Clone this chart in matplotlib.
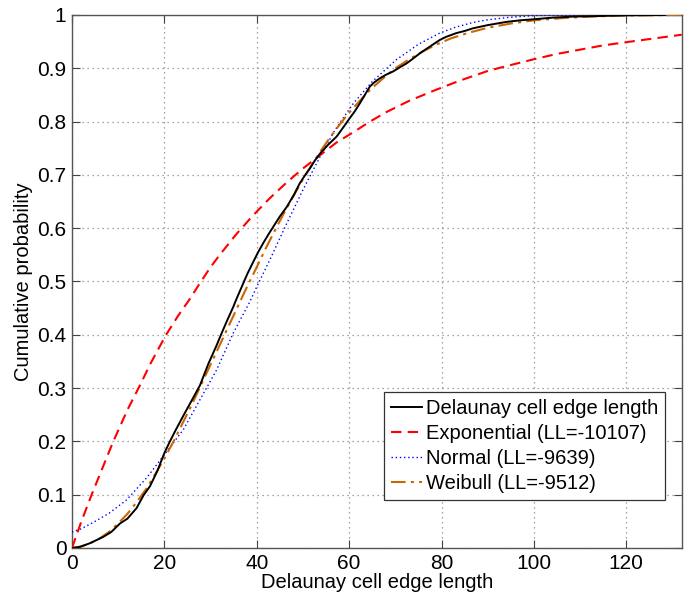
import matplotlib
matplotlib.use("Agg")
import matplotlib.pyplot as plt

# Empirical CDF (black)
emp_x = [0, 1.7, 3.9, 6.8, 8.5, 10.4, 12, 14.0, 15.5, 16.9, 18.5, 20, 21.2, 22.5, 24.1, 26, 27.7, 29.5, 31.3, 32.4,
         33.5, 34.9, 35.6, 37.1, 38, 39.2, 40.3, 41.4, 42.5, 43.6, 45, 46.5, 48, 49.3, 50.5, 51.5, 52.5, 53.7, 55.5,
         57.3, 58.8, 60.1, 61.2, 62.3, 63.4, 64.5, 65.5, 66.6, 68, 69.5, 71, 72.4, 73.8, 75.3, 77, 79.6, 81, 83.2,
         85, 86.8, 90, 94, 97, 100, 104, 108.5, 114, 120, 128.3]
emp_y = [0, 0.002, 0.009, 0.021, 0.030, 0.046, 0.055, 0.075, 0.099, 0.116, 0.145, 0.178, 0.200, 0.222, 0.248, 0.278,
         0.305, 0.345, 0.380, 0.403, 0.425, 0.452, 0.467, 0.497, 0.515, 0.536, 0.555, 0.572, 0.588, 0.603, 0.622,
         0.640, 0.662, 0.684, 0.700, 0.712, 0.726, 0.740, 0.757, 0.772, 0.790, 0.806, 0.819, 0.834, 0.850, 0.866,
         0.874, 0.881, 0.888, 0.894, 0.902, 0.909, 0.918, 0.928, 0.938, 0.953, 0.959, 0.966, 0.970, 0.975, 0.981,
         0.987, 0.990, 0.992, 0.995, 0.997, 0.998, 0.9994, 1.0]

# Exponential fit (red dashed)
exp_x = [0, 2, 4.3, 8.9, 12, 14.7, 17, 20.3, 23, 25.5, 27.7, 30, 32, 35.5, 39.2, 42.8, 46.5, 50, 53.7, 57.3, 60.9,
         64.5, 68.1, 73, 78.9, 84, 90, 94, 100, 105, 110, 115, 120, 126, 132]
exp_y = [0, 0.049, 0.101, 0.199, 0.259, 0.305, 0.346, 0.399, 0.436, 0.467, 0.497, 0.527, 0.550, 0.588, 0.624, 0.656,
         0.686, 0.712, 0.737, 0.761, 0.780, 0.800, 0.818, 0.839, 0.860, 0.877, 0.895, 0.904, 0.917, 0.927, 0.935,
         0.943, 0.949, 0.956, 0.963]

# Normal fit (blue dotted)
norm_x = [0, 2, 4.6, 8, 11.8, 16.2, 20, 24.1, 27.7, 31.3, 34.9, 38.5, 40, 42.8, 46.5, 50, 53.7, 57, 60.9, 65, 70.2,
          75, 79.6, 83, 86.8, 90, 94, 100, 110, 132]
norm_y = [0.030, 0.036, 0.048, 0.065, 0.090, 0.132, 0.175, 0.222, 0.278, 0.334, 0.403, 0.462, 0.490, 0.540, 0.609,
          0.672, 0.734, 0.785, 0.834, 0.875, 0.916, 0.945, 0.966, 0.977, 0.986, 0.991, 0.995, 0.999, 1.0, 1.0]

# Weibull fit (brown dash-dot)
weib_x = [0, 2, 4, 6, 8, 10, 12, 14, 16, 18, 20, 22, 24, 26, 28, 30, 32, 34, 36, 38, 40, 42, 44, 46, 48, 50, 52,
          54, 56, 58, 60, 62, 64, 66, 68, 70, 73, 76, 79, 82, 86, 90, 95, 100, 106, 112, 120, 132]
weib_y = [0, 0.003, 0.009, 0.018, 0.030, 0.046, 0.064, 0.086, 0.110, 0.138, 0.168, 0.200, 0.235, 0.270, 0.307,
          0.344, 0.381, 0.418, 0.455, 0.492, 0.527, 0.563, 0.597, 0.630, 0.661, 0.692, 0.720, 0.747, 0.772, 0.795,
          0.817, 0.836, 0.855, 0.871, 0.886, 0.900, 0.917, 0.932, 0.945, 0.956, 0.967, 0.976, 0.984, 0.990, 0.994,
          0.997, 0.999, 1.0]

legend_labels = ["Delaunay cell edge length", "Exponential (LL=-10107)", "Normal (LL=-9639)", "Weibull (LL=-9512)"]
x_ticks = [0, 20, 40, 60, 80, 100, 120]
y_ticks = [0, 0.1, 0.2, 0.3, 0.4, 0.5, 0.6, 0.7, 0.8, 0.9, 1]
y_tick_labels = ["0", "0.1", "0.2", "0.3", "0.4", "0.5", "0.6", "0.7", "0.8", "0.9", "1"]

plt.rcParams['font.family'] = ['Liberation Sans', 'DejaVu Sans']

fig = plt.figure(figsize=(6.96, 5.95), dpi=100)
ax = fig.add_axes([0.1034, 0.0790, 0.8761, 0.8958])

ax.plot(emp_x, emp_y, color='black', lw=1.4, label=legend_labels[0], zorder=5)
ax.plot(exp_x, exp_y, color='#ff0000', lw=1.5, ls=(0, (5, 3)), label=legend_labels[1], zorder=4)
ax.plot(norm_x, norm_y, color='#0000ff', lw=1.0, ls=(0, (1, 2)), label=legend_labels[2], zorder=3)
ax.plot(weib_x, weib_y, color='#cc6600', lw=1.5, ls=(0, (7, 2.5, 1.5, 2.5)), label=legend_labels[3], zorder=4)

ax.set_xlim(0, 132)
ax.set_ylim(0, 1)
ax.set_xticks(x_ticks)
ax.set_yticks(y_ticks)
ax.set_yticklabels(y_tick_labels)
ax.tick_params(direction='in', top=True, right=True, labelsize=15, length=6, color='#444444', pad=4)
ax.grid(True, ls=(0, (1, 3)), color='#888888', lw=0.9)
for s in ax.spines.values():
    s.set_color('#555555')
    s.set_linewidth(1.0)

ax.set_xlabel("Delaunay cell edge length", fontsize=14.5, labelpad=0)
ax.set_ylabel("Cumulative probability", fontsize=14.5, labelpad=3)

leg = ax.legend(loc='lower right', bbox_to_anchor=(0.9726, 0.090), fontsize=14.5, frameon=True, fancybox=False,
                edgecolor='#333333', framealpha=1, handlelength=1.5, handletextpad=0.2, borderpad=0.35,
                labelspacing=0.3, borderaxespad=0)
leg.get_frame().set_linewidth(0.9)

fig.savefig("out.png", dpi=100)
